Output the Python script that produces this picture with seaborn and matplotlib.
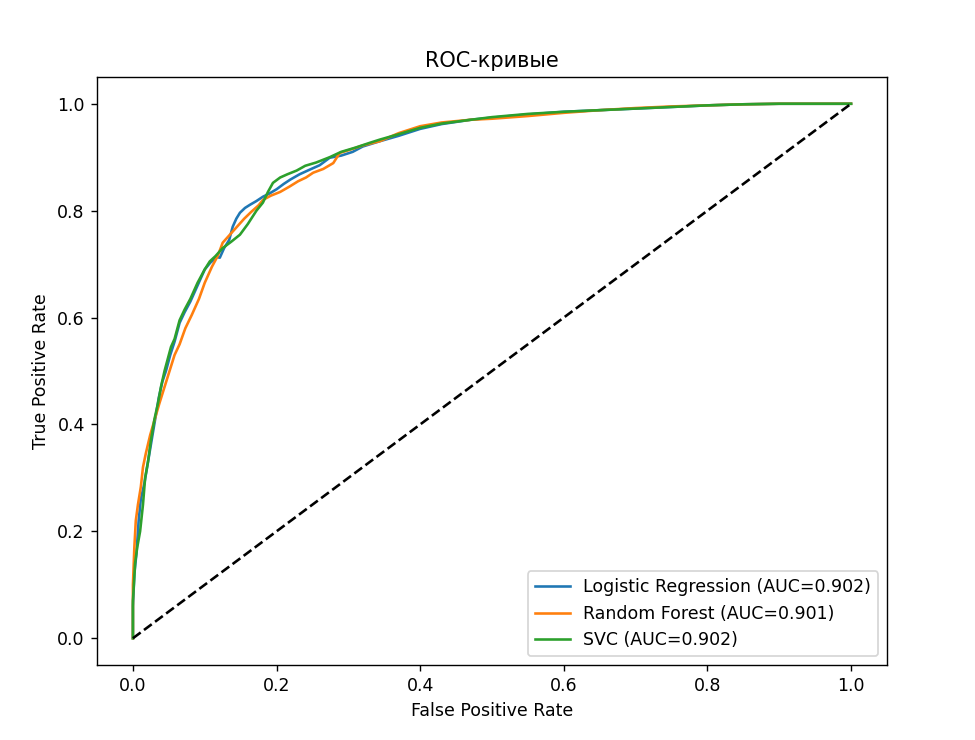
import numpy as np
import pandas as pd
import matplotlib
matplotlib.use("Agg")
from matplotlib import pyplot as plt
import seaborn as sns

# model names / labels
models = ["Logistic Regression", "Random Forest", "SVC"]
auc_values = [0.902, 0.901, 0.902]

# ROC points
lr_fpr = [0, 0, 0.002, 0.005, 0.008, 0.011, 0.016, 0.021, 0.026, 0.031, 0.036, 0.041, 0.046,
          0.052, 0.058, 0.065, 0.072, 0.08, 0.09, 0.1, 0.108, 0.117, 0.121, 0.127, 0.134, 0.139,
          0.144, 0.149, 0.156, 0.163, 0.172, 0.181, 0.19, 0.2, 0.21, 0.219, 0.232, 0.245, 0.26,
          0.274, 0.29, 0.306, 0.32, 0.344, 0.37, 0.4, 0.43, 0.47, 0.5, 0.55, 0.6, 0.65, 0.7,
          0.75, 0.8, 0.85, 0.9, 0.95, 1.0]
lr_tpr = [0, 0.06, 0.12, 0.16, 0.22, 0.26, 0.29, 0.33, 0.37, 0.41, 0.45, 0.48, 0.5,
          0.53, 0.555, 0.59, 0.61, 0.63, 0.66, 0.69, 0.703, 0.713, 0.712, 0.73, 0.745, 0.77,
          0.785, 0.796, 0.805, 0.811, 0.818, 0.826, 0.832, 0.84, 0.85, 0.858, 0.868, 0.876, 0.885,
          0.899, 0.903, 0.91, 0.92, 0.93, 0.94, 0.953, 0.962, 0.97, 0.974, 0.98, 0.985, 0.988, 0.991,
          0.994, 0.997, 0.999, 1.0, 1.0, 1.0]

rf_fpr = [0, 0, 0.002, 0.004, 0.007, 0.011, 0.014, 0.018, 0.024, 0.03, 0.037, 0.044, 0.051,
          0.058, 0.065, 0.073, 0.082, 0.092, 0.1, 0.11, 0.118, 0.125, 0.135, 0.145, 0.155,
          0.165, 0.175, 0.181, 0.192, 0.205, 0.218, 0.23, 0.241, 0.251, 0.265, 0.279, 0.288,
          0.3, 0.32, 0.344, 0.37, 0.4, 0.43, 0.47, 0.5, 0.55, 0.6, 0.65, 0.7, 0.75, 0.8, 0.85,
          0.9, 0.95, 1.0]
rf_tpr = [0, 0.1, 0.17, 0.22, 0.25, 0.283, 0.32, 0.346, 0.38, 0.408, 0.44, 0.47, 0.5,
          0.53, 0.55, 0.58, 0.605, 0.635, 0.665, 0.695, 0.715, 0.74, 0.755, 0.77, 0.785,
          0.798, 0.81, 0.82, 0.828, 0.835, 0.845, 0.855, 0.862, 0.871, 0.878, 0.889, 0.908,
          0.913, 0.922, 0.93, 0.945, 0.958, 0.965, 0.97, 0.972, 0.977, 0.983, 0.988, 0.992, 0.995, 0.997, 0.999,
          1.0, 1.0, 1.0]

svc_fpr = [0, 0, 0.003, 0.006, 0.01, 0.014, 0.017, 0.021, 0.025, 0.03, 0.035, 0.039, 0.044,
           0.048, 0.053, 0.058, 0.065, 0.072, 0.08, 0.09, 0.1, 0.107, 0.115, 0.125, 0.137,
           0.149, 0.16, 0.172, 0.181, 0.188, 0.195, 0.205, 0.215, 0.228, 0.24, 0.255, 0.274,
           0.29, 0.31, 0.33, 0.344, 0.37, 0.4, 0.43, 0.47, 0.5, 0.55, 0.6, 0.65, 0.7, 0.75,
           0.8, 0.85, 0.9, 0.95, 1.0]
svc_tpr = [0, 0.07, 0.14, 0.17, 0.2, 0.25, 0.3, 0.33, 0.37, 0.41, 0.44, 0.47, 0.5,
           0.52, 0.545, 0.56, 0.595, 0.615, 0.635, 0.665, 0.69, 0.705, 0.715, 0.73, 0.742,
           0.755, 0.775, 0.8, 0.815, 0.835, 0.852, 0.862, 0.868, 0.875, 0.884, 0.89, 0.9,
           0.91, 0.918, 0.927, 0.933, 0.943, 0.955, 0.963, 0.97, 0.975, 0.981, 0.985, 0.988, 0.991, 0.994,
           0.997, 0.999, 1.0, 1.0, 1.0]

# long table for seaborn
frames = []
for name, auc, fpr, tpr in zip(models, auc_values,
                               [lr_fpr, rf_fpr, svc_fpr],
                               [lr_tpr, rf_tpr, svc_tpr]):
    frames.append(pd.DataFrame({"fpr": fpr, "tpr": tpr,
                                "model": f"{name} (AUC={auc:.3f})"}))
roc = pd.concat(frames, ignore_index=True)
labels = list(roc["model"].unique())

fig = plt.figure(figsize=(7.8, 5.92), dpi=125)
ax = fig.add_axes([0.0995, 0.1014, 0.8102, 0.7945])

sns.lineplot(data=roc, x="fpr", y="tpr", hue="model", hue_order=labels,
             palette=["#1f77b4", "#ff7f0e", "#2ca02c"], sort=False,
             estimator=None, legend=False, linewidth=1.5, ax=ax)
ax.plot([0, 1], [0, 1], "k--")

ax.set_xlim(-0.05, 1.05)
ax.set_ylim(-0.05, 1.05)
ax.set_xlabel("False Positive Rate")
ax.set_ylabel("True Positive Rate")
ax.set_title("ROC-кривые")
ax.legend(ax.get_lines()[:3], labels, loc="lower right")

fig.savefig("out.png", dpi=125)
